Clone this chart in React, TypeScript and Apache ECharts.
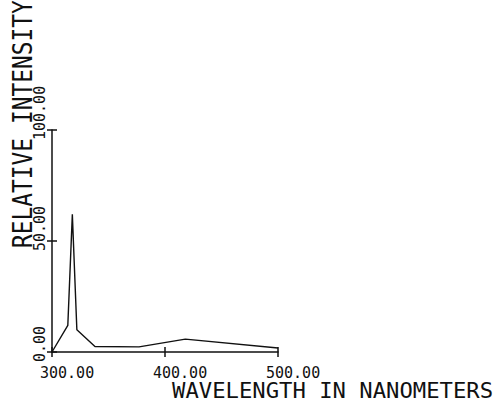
import React, { useEffect, useRef } from "react";
import * as echarts from "echarts";

// Emission spectrum: wavelength (nm) vs relative intensity
const wavelength = [300, 314, 318, 322, 338, 377, 418, 500];
const intensity = [0, 12, 62, 10, 2.5, 2.3, 5.8, 1.8];

const xTicks = [300, 400, 500];
const xTickLabels = ["300.00", "400.00", "500.00"];
const yTicks = [0, 50, 100];
const yTickLabels = ["0.00", "50.00", "100.00"];

const xTitle = "WAVELENGTH IN NANOMETERS";
const yTitle = "RELATIVE INTENSITY";

const INK = "#111";
const FONT = "'DejaVu Sans Mono', 'Liberation Mono', monospace";

const W = 497;
const H = 404;
const TICK = 5;

export default function App() {
  const ref = useRef<HTMLDivElement>(null);

  useEffect(() => {
    if (!ref.current) return;
    const chart = echarts.init(ref.current, undefined, { renderer: "svg" });

    const tick = { show: true, inside: false, length: TICK, lineStyle: { color: INK, width: 1.5 } };

    chart.setOption({
      animation: false,
      backgroundColor: "#fff",
      grid: { left: 52, top: 130, right: 219, bottom: 52, containLabel: false },
      xAxis: {
        type: "value",
        min: 300,
        max: 500,
        interval: 100,
        splitLine: { show: false },
        axisLabel: { show: false },
        axisLine: { show: true, onZero: false, lineStyle: { color: INK, width: 1.5 } },
        axisTick: tick,
      },
      yAxis: {
        type: "value",
        min: 0,
        max: 100,
        interval: 50,
        splitLine: { show: false },
        axisLabel: { show: false },
        axisLine: { show: true, onZero: false, lineStyle: { color: INK, width: 1.5 } },
        axisTick: tick,
      },
      series: [
        {
          type: "line",
          data: wavelength.map((w, i) => [w, intensity[i]]),
          symbol: "none",
          lineStyle: { color: INK, width: 1.4 },
        },
      ],
    });

    const px = (v: number) => chart.convertToPixel({ xAxisIndex: 0 }, v) as number;
    const py = (v: number) => chart.convertToPixel({ yAxisIndex: 0 }, v) as number;
    const axisY = py(0);
    const axisX = px(300);
    const tickStyle = { stroke: INK, lineWidth: 1.5 };

    const graphic: any[] = [];
    // inward halves of the cross ticks
    xTicks.forEach((t) => {
      graphic.push({
        type: "line",
        shape: { x1: px(t), y1: axisY, x2: px(t), y2: axisY - TICK },
        style: tickStyle,
      });
    });
    yTicks.forEach((t) => {
      graphic.push({
        type: "line",
        shape: { x1: axisX, y1: py(t), x2: axisX + TICK, y2: py(t) },
        style: tickStyle,
      });
    });

    xTicks.forEach((t, i) => {
      graphic.push({
        type: "text",
        x: px(t) - 12,
        y: axisY + 13,
        style: {
          text: xTickLabels[i],
          fill: INK,
          fontFamily: FONT,
          fontSize: 15,
          align: "left",
          verticalAlign: "top",
        },
      });
    });
    yTicks.forEach((t, i) => {
      graphic.push({
        type: "text",
        x: axisX - 12,
        y: py(t) + 10,
        rotation: Math.PI / 2,
        style: {
          text: yTickLabels[i],
          fill: INK,
          fontFamily: FONT,
          fontSize: 15,
          align: "left",
          verticalAlign: "middle",
        },
      });
    });
    graphic.push({
      type: "text",
      x: axisX + 120,
      y: axisY + 38,
      scaleX: 1.01,
      style: {
        text: xTitle,
        fill: INK,
        fontFamily: FONT,
        fontSize: 22,
        align: "left",
        verticalAlign: "middle",
      },
    });
    graphic.push({
      type: "text",
      x: 23,
      y: 248,
      rotation: Math.PI / 2,
      scaleX: 1.04,
      scaleY: 1.2,
      style: {
        text: yTitle,
        fill: INK,
        fontFamily: FONT,
        fontSize: 22,
        align: "left",
        verticalAlign: "middle",
      },
    });
    chart.setOption({ graphic });

    return () => chart.dispose();
  }, []);

  return (
    <div
      ref={ref}
      style={{ position: "fixed", left: 0, top: 0, width: W, height: H }}
    />
  );
}
